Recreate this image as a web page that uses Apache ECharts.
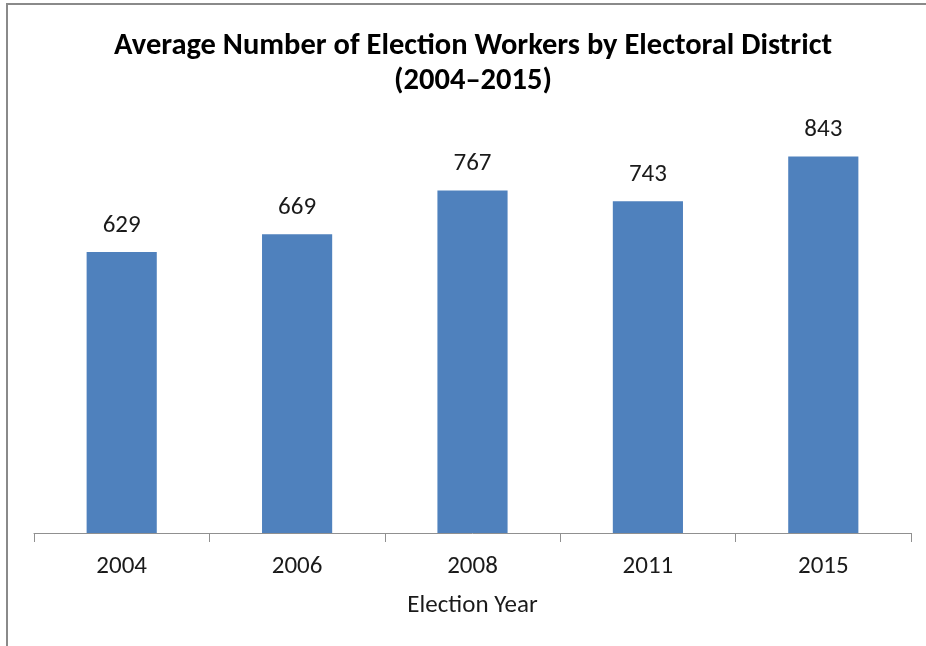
<!DOCTYPE html>
<html>
<head>
<meta charset="utf-8">
<script src="https://cdn.jsdelivr.net/npm/echarts@6/dist/echarts.min.js"></script>
<style>
html,body{margin:0;padding:0;background:#fff;}
#chart{width:926px;height:646px;}
</style>
</head>
<body>
<div id="chart"></div>
<script>
const categories = ['2004', '2006', '2008', '2011', '2015'];
const values = [629, 669, 767, 743, 843];
const titleLines = ['Average Number of Election Workers by Electoral District', '(2004\u20132015)'];
const xAxisName = 'Election Year';

const FONT = 'Carlito, Lato, sans-serif';
const chart = echarts.init(document.getElementById('chart'));
chart.setOption({
  backgroundColor: '#fff',
  animation: false,
  title: {
    text: titleLines.join('\n'),
    left: 468,
    top: 24,
    textAlign: 'center',
    textStyle: { fontFamily: FONT, fontSize: 30.5, fontWeight: 'bold', color: '#000', lineHeight: 35 }
  },
  graphic: [{
    type: 'rect',
    shape: { x: 7, y: 4, width: 940, height: 660 },
    style: { fill: 'none', stroke: '#8a8a8a', lineWidth: 2 },
    silent: true
  }],
  grid: { left: 34, right: 15, top: 131, bottom: 113 },
  xAxis: {
    type: 'category',
    data: categories,
    name: xAxisName,
    nameLocation: 'middle',
    nameGap: 60,
    nameTextStyle: { fontFamily: FONT, fontSize: 25, color: '#1a1a1a' },
    axisLine: { lineStyle: { color: '#909090', width: 1 } },
    axisTick: { show: true, length: 9, lineStyle: { color: '#909090' } },
    axisLabel: { fontFamily: FONT, fontSize: 25, color: '#1a1a1a', margin: 21 }
  },
  yAxis: {
    type: 'value', min: 0, max: 900,
    show: false,
    splitLine: { show: false }
  },
  series: [{
    type: 'bar',
    data: values,
    barWidth: '40%',
    itemStyle: { color: '#4f81bd' },
    label: { show: true, position: 'top', distance: 14, fontFamily: FONT, fontSize: 25, color: '#1a1a1a' }
  }]
});
</script>
</body>
</html>
